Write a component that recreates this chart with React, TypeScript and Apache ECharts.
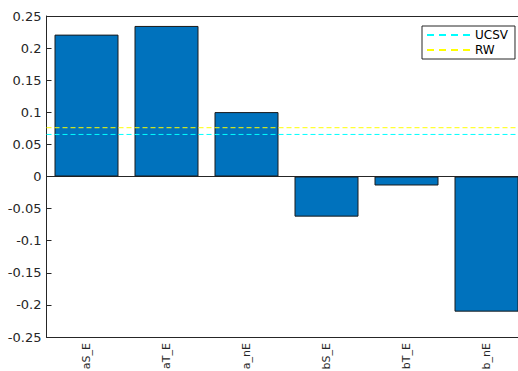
import React, { useEffect, useRef } from "react";
import * as echarts from "echarts";

const categories = ["aS_E", "aT_E", "a_nE", "bS_E", "bT_E", "b_nE"];
const barValues = [0.221, 0.2345, 0.1003, -0.0625, -0.014, -0.2105];
const ucsvLevel = 0.0655;
const rwLevel = 0.076;
const yMin = -0.25;
const yMax = 0.25;
const yStep = 0.05;
// category span of the x axis (MATLAB xlim), used by the horizontal reference lines
const xLo = 0.5;
const xHi = categories.length + 0.5;

const AXIS = "#262626";
const FONT = "DejaVu Sans";
const UCSV_COLOR = "#00FFFF";
const RW_COLOR = "#FFFF00";
const DASH_ICON = "path://M0,0H7V2H0Z M12,0H19V2H12Z M24,0H31V2H24Z M36,0H43V2H36Z";

function refLine(name: string, level: number, color: string) {
  return {
    name,
    type: "line",
    xAxisIndex: 3,
    color,
    data: [
      [xLo, level],
      [xHi, level],
    ],
    symbol: "none",
    silent: true,
    z: 5,
    itemStyle: { color },
    lineStyle: { color, type: [5, 3], width: 1 },
  };
}

export default function App() {
  const ref = useRef<HTMLDivElement>(null);
  useEffect(() => {
    if (!ref.current) return;
    const chart = echarts.init(ref.current, null, { renderer: "svg" });
    chart.setOption({
      animation: false,
      backgroundColor: "#ffffff",
      grid: { left: 46.5, top: 16, width: 480, height: 321, outerBoundsMode: "none", containLabel: false },
      legend: {
        orient: "vertical",
        left: 422,
        top: 26,
        padding: [3, 7, 3, 5],
        itemGap: 3,
        itemWidth: 43,
        itemHeight: 2,
        borderColor: AXIS,
        borderWidth: 1,
        backgroundColor: "#ffffff",
        textStyle: { fontFamily: FONT, fontSize: 12, color: "#000" },
        data: [
          { name: "UCSV", icon: DASH_ICON, itemStyle: { color: UCSV_COLOR } },
          { name: "RW", icon: DASH_ICON, itemStyle: { color: RW_COLOR } },
        ],
      },
      xAxis: [
        {
          type: "category",
          data: categories,
          position: "bottom",
          axisLine: { onZero: false, lineStyle: { color: AXIS, width: 1 } },
          axisTick: { inside: true, alignWithLabel: true, length: 5, lineStyle: { color: AXIS } },
          axisLabel: { rotate: 90, margin: 6, fontFamily: FONT, fontSize: 11, color: AXIS },
          splitLine: { show: false },
        },
        {
          type: "category",
          data: categories,
          position: "top",
          axisLine: { onZero: false, lineStyle: { color: AXIS, width: 1 } },
          axisTick: { inside: true, alignWithLabel: true, length: 5, lineStyle: { color: AXIS } },
          axisLabel: { show: false },
          splitLine: { show: false },
        },
        {
          type: "category",
          data: categories,
          axisLine: { onZero: true, lineStyle: { color: AXIS, width: 1 } },
          axisTick: { show: false },
          axisLabel: { show: false },
          splitLine: { show: false },
        },
        {
          type: "value",
          min: xLo,
          max: xHi,
          show: false,
        },
      ],
      yAxis: {
        type: "value",
        min: yMin,
        max: yMax,
        interval: yStep,
        axisLine: { show: true, lineStyle: { color: AXIS, width: 1 } },
        axisTick: { show: true, inside: true, length: 5, lineStyle: { color: AXIS } },
        axisLabel: {
          margin: 5,
          fontFamily: FONT,
          fontSize: 13,
          color: AXIS,
          formatter: (v: number) => String(Math.round(v * 100) / 100),
        },
        splitLine: { show: false },
      },
      series: [
        {
          type: "bar",
          data: barValues,
          barWidth: "80%",
          itemStyle: { color: "#0072BD", borderColor: "#1a1a1a", borderWidth: 1 },
        },
        refLine("UCSV", ucsvLevel, UCSV_COLOR),
        refLine("RW", rwLevel, RW_COLOR),
      ],
    });
    return () => chart.dispose();
  }, []);
  return (
    <div style={{ position: "fixed", left: 0, top: 0, width: 518, height: 371, overflow: "hidden", background: "#fff" }}>
      <div ref={ref} style={{ width: 540, height: 371 }} />
    </div>
  );
}
